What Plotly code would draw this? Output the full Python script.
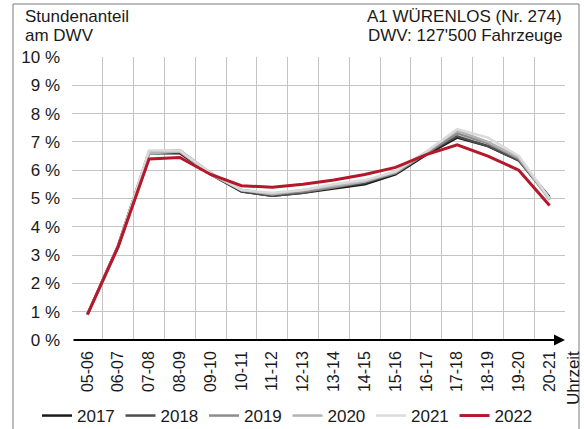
import plotly.graph_objects as go

hours = ["05-06", "06-07", "07-08", "08-09", "09-10", "10-11", "11-12", "12-13",
         "13-14", "14-15", "15-16", "16-17", "17-18", "18-19", "19-20", "20-21"]

y2017 = [0.9, 3.3, 6.6, 6.6, 5.85, 5.25, 5.1, 5.2, 5.35, 5.5, 5.85, 6.55, 7.15, 6.85, 6.35, 5.05]
y2018 = [0.9, 3.35, 6.65, 6.65, 5.9, 5.25, 5.1, 5.2, 5.4, 5.55, 5.9, 6.6, 7.2, 6.85, 6.35, 5.0]
y2019 = [0.9, 3.35, 6.65, 6.7, 5.9, 5.3, 5.15, 5.25, 5.4, 5.6, 5.9, 6.6, 7.3, 6.95, 6.4, 5.0]
y2020 = [0.9, 3.3, 6.6, 6.65, 5.85, 5.3, 5.15, 5.3, 5.45, 5.6, 5.95, 6.65, 7.4, 7.0, 6.45, 4.95]
y2021 = [0.9, 3.3, 6.7, 6.7, 5.9, 5.3, 5.2, 5.3, 5.5, 5.65, 5.95, 6.65, 7.45, 7.15, 6.5, 5.0]
y2022 = [0.9, 3.3, 6.4, 6.45, 5.85, 5.45, 5.4, 5.5, 5.65, 5.85, 6.1, 6.55, 6.9, 6.5, 6.0, 4.75]

series = [
    ("2017", y2017, "#1a1a1a", 2.5),
    ("2018", y2018, "#4d4d4d", 2.5),
    ("2019", y2019, "#8c8c8c", 2.5),
    ("2020", y2020, "#b3b3b3", 2.5),
    ("2021", y2021, "#dadada", 2.5),
    ("2022", y2022, "#b5172b", 3),
]

yticks = list(range(0, 11))
yticklabels = [f"{v} %" for v in yticks]

FONT = "Liberation Sans, Arial, sans-serif"

fig = go.Figure()
for name, ys, col, w in series:
    fig.add_trace(go.Scatter(x=hours, y=ys, mode="lines", name=name,
                             line=dict(color=col, width=w)))

# pixel helpers
L, R, T, B = 72, 565, 57, 340
def px(xp):
    return (xp - L) / (R - L)
def py(yp):
    return (B - yp) / (B - T)

def label(text, xp, yp, anchor):
    return dict(text=text, xref="paper", yref="paper", x=px(xp), y=py(yp),
                xanchor=anchor, yanchor="middle", showarrow=False,
                font=dict(size=17))

fig.update_layout(
    width=584, height=429,
    margin=dict(l=L, r=584 - R, t=T, b=429 - B, autoexpand=False),
    paper_bgcolor="white", plot_bgcolor="white",
    font=dict(family=FONT, size=17, color="#1a1a1a"),
    showlegend=True,
    legend=dict(orientation="h", x=px(37), y=py(416), xanchor="left", yanchor="middle",
                entrywidth=38.5, entrywidthmode="pixels",
                font=dict(size=17), bgcolor="rgba(0,0,0,0)", tracegroupgap=0),
    xaxis=dict(type="category", range=[-0.5, 15.5], tickson="boundaries",
               showgrid=True, gridcolor="#c4c4c4", gridwidth=1,
               tickangle=-90, ticks="", showline=False, zeroline=False,
               tickfont=dict(size=16), ticklabelstandoff=7, automargin=False),
    yaxis=dict(range=[0, 10], tickvals=yticks, ticktext=yticklabels,
               showgrid=True, gridcolor="#c4c4c4", gridwidth=1,
               zeroline=False, showline=False, ticks="",
               tickfont=dict(size=17), ticklabelstandoff=11, automargin=False),
    annotations=[
        label("Stundenanteil", 23, 16, "left"),
        label("am DWV", 23, 36, "left"),
        label("A1 WÜRENLOS (Nr. 274)", 564, 16, "right"),
        label("DWV: 127'500 Fahrzeuge", 564, 36, "right"),
        dict(text="Uhrzeit", xref="paper", yref="paper", x=px(573), y=py(378),
             xanchor="center", yanchor="middle", textangle=-90, showarrow=False,
             font=dict(size=17)),
        dict(text="", xref="x domain", yref="y domain", x=px(565), y=0,
             ax=0, ay=0, axref="x domain", ayref="y domain", showarrow=True,
             arrowhead=2, arrowsize=1.1, arrowwidth=2, arrowcolor="#000000"),
    ],
    shapes=[
        dict(type="line", xref="paper", yref="paper", x0=px(13), x1=px(13),
             y0=py(4), y1=py(429), line=dict(color="#7a7a7a", width=1)),
        dict(type="line", xref="paper", yref="paper", x0=px(579), x1=px(579),
             y0=py(4), y1=py(429), line=dict(color="#7a7a7a", width=1)),
        dict(type="line", xref="paper", yref="paper", x0=px(13), x1=px(579),
             y0=py(4), y1=py(4), line=dict(color="#7a7a7a", width=1)),
    ],
)

fig.write_html("out.html", config={"displayModeBar": False},
               post_script="document.body.style.margin='0';document.body.style.overflow='hidden';")
